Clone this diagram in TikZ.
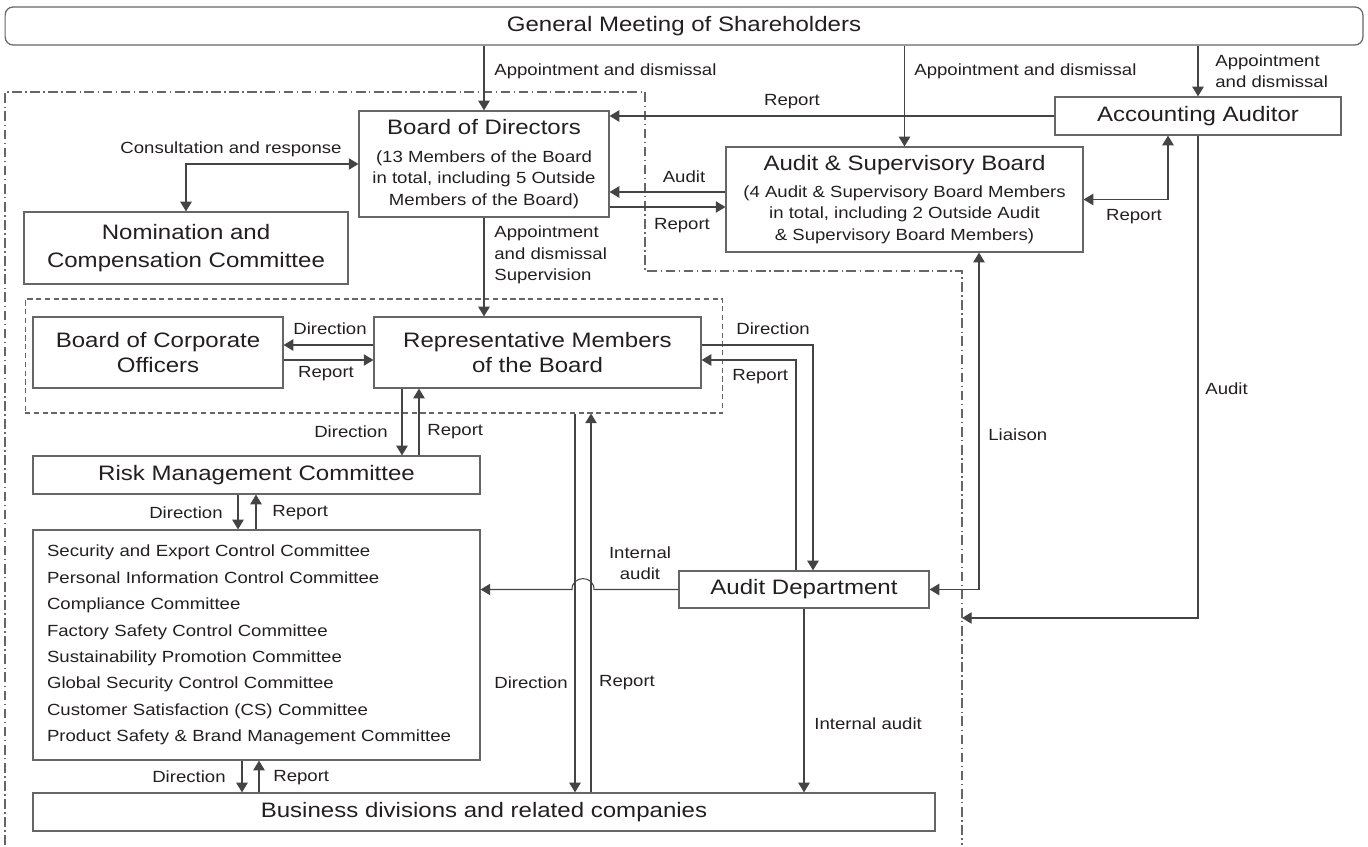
\documentclass[tikz,border=0pt]{standalone}
\usepackage{fontspec}
\setmainfont{Liberation Sans}[FakeStretch=1.15]
\usepackage{xcolor}
\usetikzlibrary{arrows.meta,calc}

\definecolor{inkcol}{HTML}{231F20}
\definecolor{boxgray}{HTML}{666666}
\definecolor{linegray}{HTML}{444444}
\newcommand{\bigsz}{\fontsize{11.9}{14.5}\selectfont}
\newcommand{\smsz}{\fontsize{9.2}{12.2}\selectfont}

\begin{document}
\begin{tikzpicture}[x=0.02cm, y=-0.02cm, text=inkcol]
        % Styles for boxes, labels and connectors
        \tikzstyle{box}=[draw=boxgray, line width=0.7pt, inner sep=0pt, align=center, font=\bigsz];
        \tikzstyle{lbl}=[font=\smsz, inner sep=0pt, align=left];
        \tikzstyle{conn}=[draw=linegray, line width=0.6pt];
        \tikzstyle{onearrow}=[-{Triangle[length=5.5pt,width=6.5pt]}];
        \tikzstyle{twoarrows}=[{Triangle[length=5.5pt,width=6.5pt]}-{Triangle[length=5.5pt,width=6.5pt]}];

        \useasboundingbox (0,0) rectangle (1368,847);

        % Boundary of the company (dash-dot)
        \draw[boxgray, line width=0.6pt, dash pattern=on 5.5pt off 2pt on 0.8pt off 2pt]
            (5,845) -- (5,92) -- (645,92) -- (645,271) -- (962,271) -- (962,845);

        % Executive group (dashed)
        \node[draw=boxgray, line width=0.6pt, dash pattern=on 3pt off 2pt,
              minimum width=13.96cm, minimum height=2.28cm] (execgrp) at (374,356) {};

        % Boxes
        \node[box, rounded corners=0.16cm, minimum width=27.16cm, minimum height=0.76cm] (gm) at (684,26) {General Meeting of Shareholders};
        \node[box, font=\smsz, minimum width=5cm, minimum height=2.12cm] (bod) at (484,164)
            {{\bigsz Board of Directors}\\[3.7pt](13 Members of the Board\\in total, including 5 Outside\\Members of the Board)};
        \node[box, minimum width=6.48cm, minimum height=1.44cm] (ncc) at (186,248) {Nomination and\\[1pt]Compensation Committee};
        \node[box, minimum width=5.72cm, minimum height=0.76cm] (aa) at (1198,116) {Accounting Auditor};
        \node[box, font=\smsz, minimum width=7.14cm, minimum height=2.1cm] (asb) at (904.5,199.5)
            {{\bigsz Audit \& Supervisory Board}\\[3pt](4 Audit \& Supervisory Board Members\\in total, including 2 Outside Audit\\\& Supervisory Board Members)};
        \node[box, minimum width=5cm, minimum height=1.42cm] (boco) at (158,352.5) {Board of Corporate\\Officers};
        \node[box, minimum width=6.54cm, minimum height=1.42cm] (rep) at (537.5,352.5) {Representative Members\\of the Board};
        \node[box, minimum width=8.94cm, minimum height=0.76cm] (rmc) at (256.5,475) {Risk Management Committee};
        \node[box, font={\fontsize{9.2}{15}\selectfont}, align=left, text width=8.38cm, inner xsep=0.28cm,
              minimum height=4.6cm] (cmt) at (256.5,645)
            {Security and Export Control Committee\\
             Personal Information Control Committee\\
             Compliance Committee\\
             Factory Safety Control Committee\\
             Sustainability Promotion Committee\\
             Global Security Control Committee\\
             Customer Satisfaction (CS) Committee\\
             Product Safety \& Brand Management Committee};
        \node[box, minimum width=5cm, minimum height=0.74cm] (ad) at (804,589.5) {Audit Department};
        \node[box, minimum width=18.04cm, minimum height=0.76cm] (biz) at (484,812) {Business divisions and related companies};

        % Free end of the accounting audit line
        \coordinate (auditEnd) at (962,618);

        % From the General Meeting
        \draw[conn,onearrow] (gm.south -| bod.north) -- (bod.north);
        \draw[conn,onearrow] (gm.south -| asb.north) -- (asb.north);
        \draw[conn,onearrow] (gm.south -| aa.north) -- (aa.north);
        \node[lbl, anchor=west] (lGmBod) at (494,71) {Appointment and dismissal};
        \node[lbl, anchor=west] (lGmAsb) at (914,71) {Appointment and dismissal};
        \node[lbl, anchor=west] (lGmAa) at (1215,71) {Appointment\\and dismissal};

        % Around the Board of Directors
        \draw[conn,onearrow] (aa.west) -- (aa.west -| bod.east);
        \node[lbl] (lAaBod) at (792,102) {Report};
        \draw[conn,onearrow] (asb.west |- 0,192) -- (bod.east |- 0,192);
        \node[lbl] (lAudit) at (684,177) {Audit};
        \draw[conn,onearrow] (bod.east |- 0,207) -- (asb.west |- 0,207);
        \node[lbl] (lBodAsb) at (682,226) {Report};
        \draw[conn,twoarrows] (ncc.north) |- (bod.west);
        \node[lbl] (lConsult) at (231,149) {Consultation and response};
        \draw[conn,onearrow] (bod.south) -- (bod.south |- rep.north);
        \node[lbl, anchor=west] (lBodRep) at (494,255) {Appointment\\and dismissal\\Supervision};

        % Accounting Auditor links
        \draw[conn,twoarrows] (asb.east) -| (aa.south -| 1168,0);
        \node[lbl] (lAsbAa) at (1134,217) {Report};
        \draw[conn,onearrow] (aa.south) |- (auditEnd);
        \node[lbl, anchor=west] (lAaAudit) at (1205,389) {Audit};

        % Executive group
        \draw[conn,onearrow] (rep.west |- 0,345) -- (boco.east |- 0,345);
        \node[lbl] (lRepBoco) at (330,329) {Direction};
        \draw[conn,onearrow] (boco.east |- 0,360) -- (rep.west |- 0,360);
        \node[lbl] (lBocoRep) at (326,374) {Report};
        \draw[conn,onearrow] (rep.south -| 402,0) -- (rmc.north -| 402,0);
        \node[lbl, anchor=east] (lRepRmc) at (388,432) {Direction};
        \draw[conn,onearrow] (rmc.north -| 419,0) -- (rep.south -| 419,0);
        \node[lbl, anchor=west] (lRmcRep) at (427,432) {Report};

        % Committees
        \draw[conn,onearrow] (rmc.south -| 238,0) -- (cmt.north -| 238,0);
        \node[lbl, anchor=east] (lRmcCmt) at (223,513) {Direction};
        \draw[conn,onearrow] (cmt.north -| 256,0) -- (rmc.south -| 256,0);
        \node[lbl, anchor=west] (lCmtRmc) at (272,513) {Report};
        \draw[conn,onearrow] (cmt.south -| 242,0) -- (biz.north -| 242,0);
        \node[lbl, anchor=east] (lCmtBiz) at (226,777) {Direction};
        \draw[conn,onearrow] (biz.north -| 259,0) -- (cmt.south -| 259,0);
        \node[lbl, anchor=west] (lBizCmt) at (273,778) {Report};

        % Executive group and business divisions
        \draw[conn,onearrow] (execgrp.south -| 575,0) -- (biz.north -| 575,0);
        \node[lbl] (lExecBiz) at (531,683) {Direction};
        \draw[conn,onearrow] (biz.north -| 591,0) -- (execgrp.south -| 591,0);
        \node[lbl] (lBizExec) at (627,683) {Report};

        % Audit Department
        \draw[conn,onearrow] (rep.east |- 0,345) -| (ad.north -| 813,0);
        \node[lbl, anchor=west] (lRepAd) at (736,329) {Direction};
        \draw[conn,onearrow] (ad.north -| 796,0) |- (rep.east |- 0,360);
        \node[lbl, anchor=west] (lAdRep) at (732,377) {Report};
        \draw[conn,onearrow] (ad.west) -- (594,589.5) .. controls (594,575) and (572,575) .. (572,589.5) -- (ad.west -| cmt.east);
        \node[lbl, align=center] (lAdCmt) at (640,563) {Internal\\audit};
        \draw[conn,onearrow] (ad.south) -- (ad.south |- biz.north);
        \node[lbl, anchor=west] (lAdBiz) at (814,724) {Internal audit};
        \draw[conn,twoarrows] (asb.south -| 979,0) |- (ad.east);
        \node[lbl, anchor=west] (lLiaison) at (988,435) {Liaison};

    \end{tikzpicture}
\end{document}
